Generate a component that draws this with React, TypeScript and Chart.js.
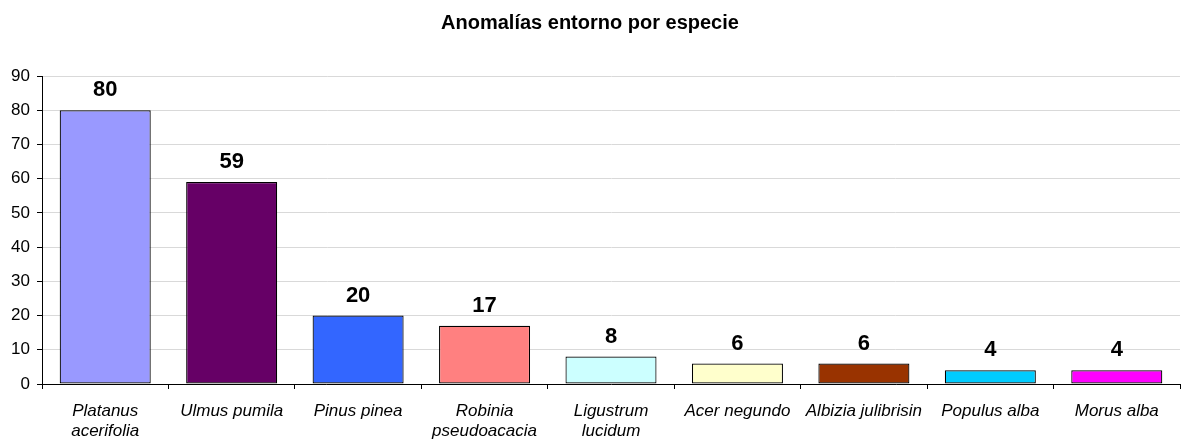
import React, { useEffect, useRef } from "react";
import { Chart, registerables } from "chart.js";

Chart.register(...registerables);

const categories: (string | string[])[] = [
  ["Platanus", "acerifolia"],
  "Ulmus pumila",
  "Pinus pinea",
  ["Robinia", "pseudoacacia"],
  ["Ligustrum", "lucidum"],
  "Acer negundo",
  "Albizia julibrisin",
  "Populus alba",
  "Morus alba",
];
const values = [80, 59, 20, 17, 8, 6, 6, 4, 4];
const barColors = [
  "#9999FF",
  "#660066",
  "#3366FF",
  "#FF8080",
  "#CCFFFF",
  "#FFFFCC",
  "#993300",
  "#00CCFF",
  "#FF00FF",
];
const titleText = "Anomalías entorno por especie";
const yMax = 90;
const yStep = 10;

const FONT = "Arial, 'Liberation Sans', sans-serif";

const valueLabels = {
  id: "valueLabels",
  afterDatasetsDraw(chart: any) {
    const ctx = chart.ctx;
    const meta = chart.getDatasetMeta(0);
    ctx.save();
    ctx.font = `bold 22px ${FONT}`;
    ctx.fillStyle = "#000";
    ctx.textAlign = "center";
    ctx.textBaseline = "middle";
    meta.data.forEach((bar: any, i: number) => {
      ctx.fillText(String(values[i]), bar.x, bar.y - 20);
    });
    ctx.restore();
  },
};

export default function App() {
  const ref = useRef<HTMLCanvasElement>(null);
  useEffect(() => {
    document.body.style.margin = "0";
    const chart = new Chart(ref.current!, {
      type: "bar",
      data: {
        labels: categories,
        datasets: [
          {
            data: values,
            backgroundColor: barColors,
            borderColor: "#000",
            borderWidth: 1.2,
            borderSkipped: false,
            barPercentage: 0.72,
            categoryPercentage: 1,
          },
        ],
      },
      options: {
        responsive: false,
        animation: false,
        devicePixelRatio: 1,
        layout: { padding: { left: 0, right: 3, top: 0, bottom: 0 } },
        plugins: {
          legend: { display: false },
          tooltip: { enabled: false },
          title: {
            display: true,
            text: titleText,
            color: "#000",
            font: { family: FONT, size: 20, weight: "bold", lineHeight: 1.2 },
            padding: { top: 11, bottom: 41 },
          },
        },
        scales: {
          x: {
            offset: true,
            grid: {
              offset: true,
              drawOnChartArea: false,
              tickLength: 5,
              tickColor: "#000",
            },
            border: { color: "#000", width: 1 },
            ticks: {
              color: "#000",
              font: { family: FONT, size: 17, style: "italic", lineHeight: 1.2 },
              padding: 12,
              maxRotation: 0,
              autoSkip: false,
            },
            afterFit(scale: any) {
              scale.height = 55;
            },
          },
          y: {
            min: 0,
            max: yMax,
            ticks: {
              stepSize: yStep,
              color: "#000",
              font: { family: FONT, size: 17 },
              padding: 7,
            },
            grid: {
              color: "#D9D9D9",
              tickColor: "#000",
              tickLength: 5,
            },
            border: { color: "#000", width: 1 },
            afterFit(scale: any) {
              scale.width = 42;
            },
          },
        },
      },
      plugins: [valueLabels],
    });
    return () => chart.destroy();
  }, []);
  return <canvas ref={ref} width={1183} height={439} />;
}
